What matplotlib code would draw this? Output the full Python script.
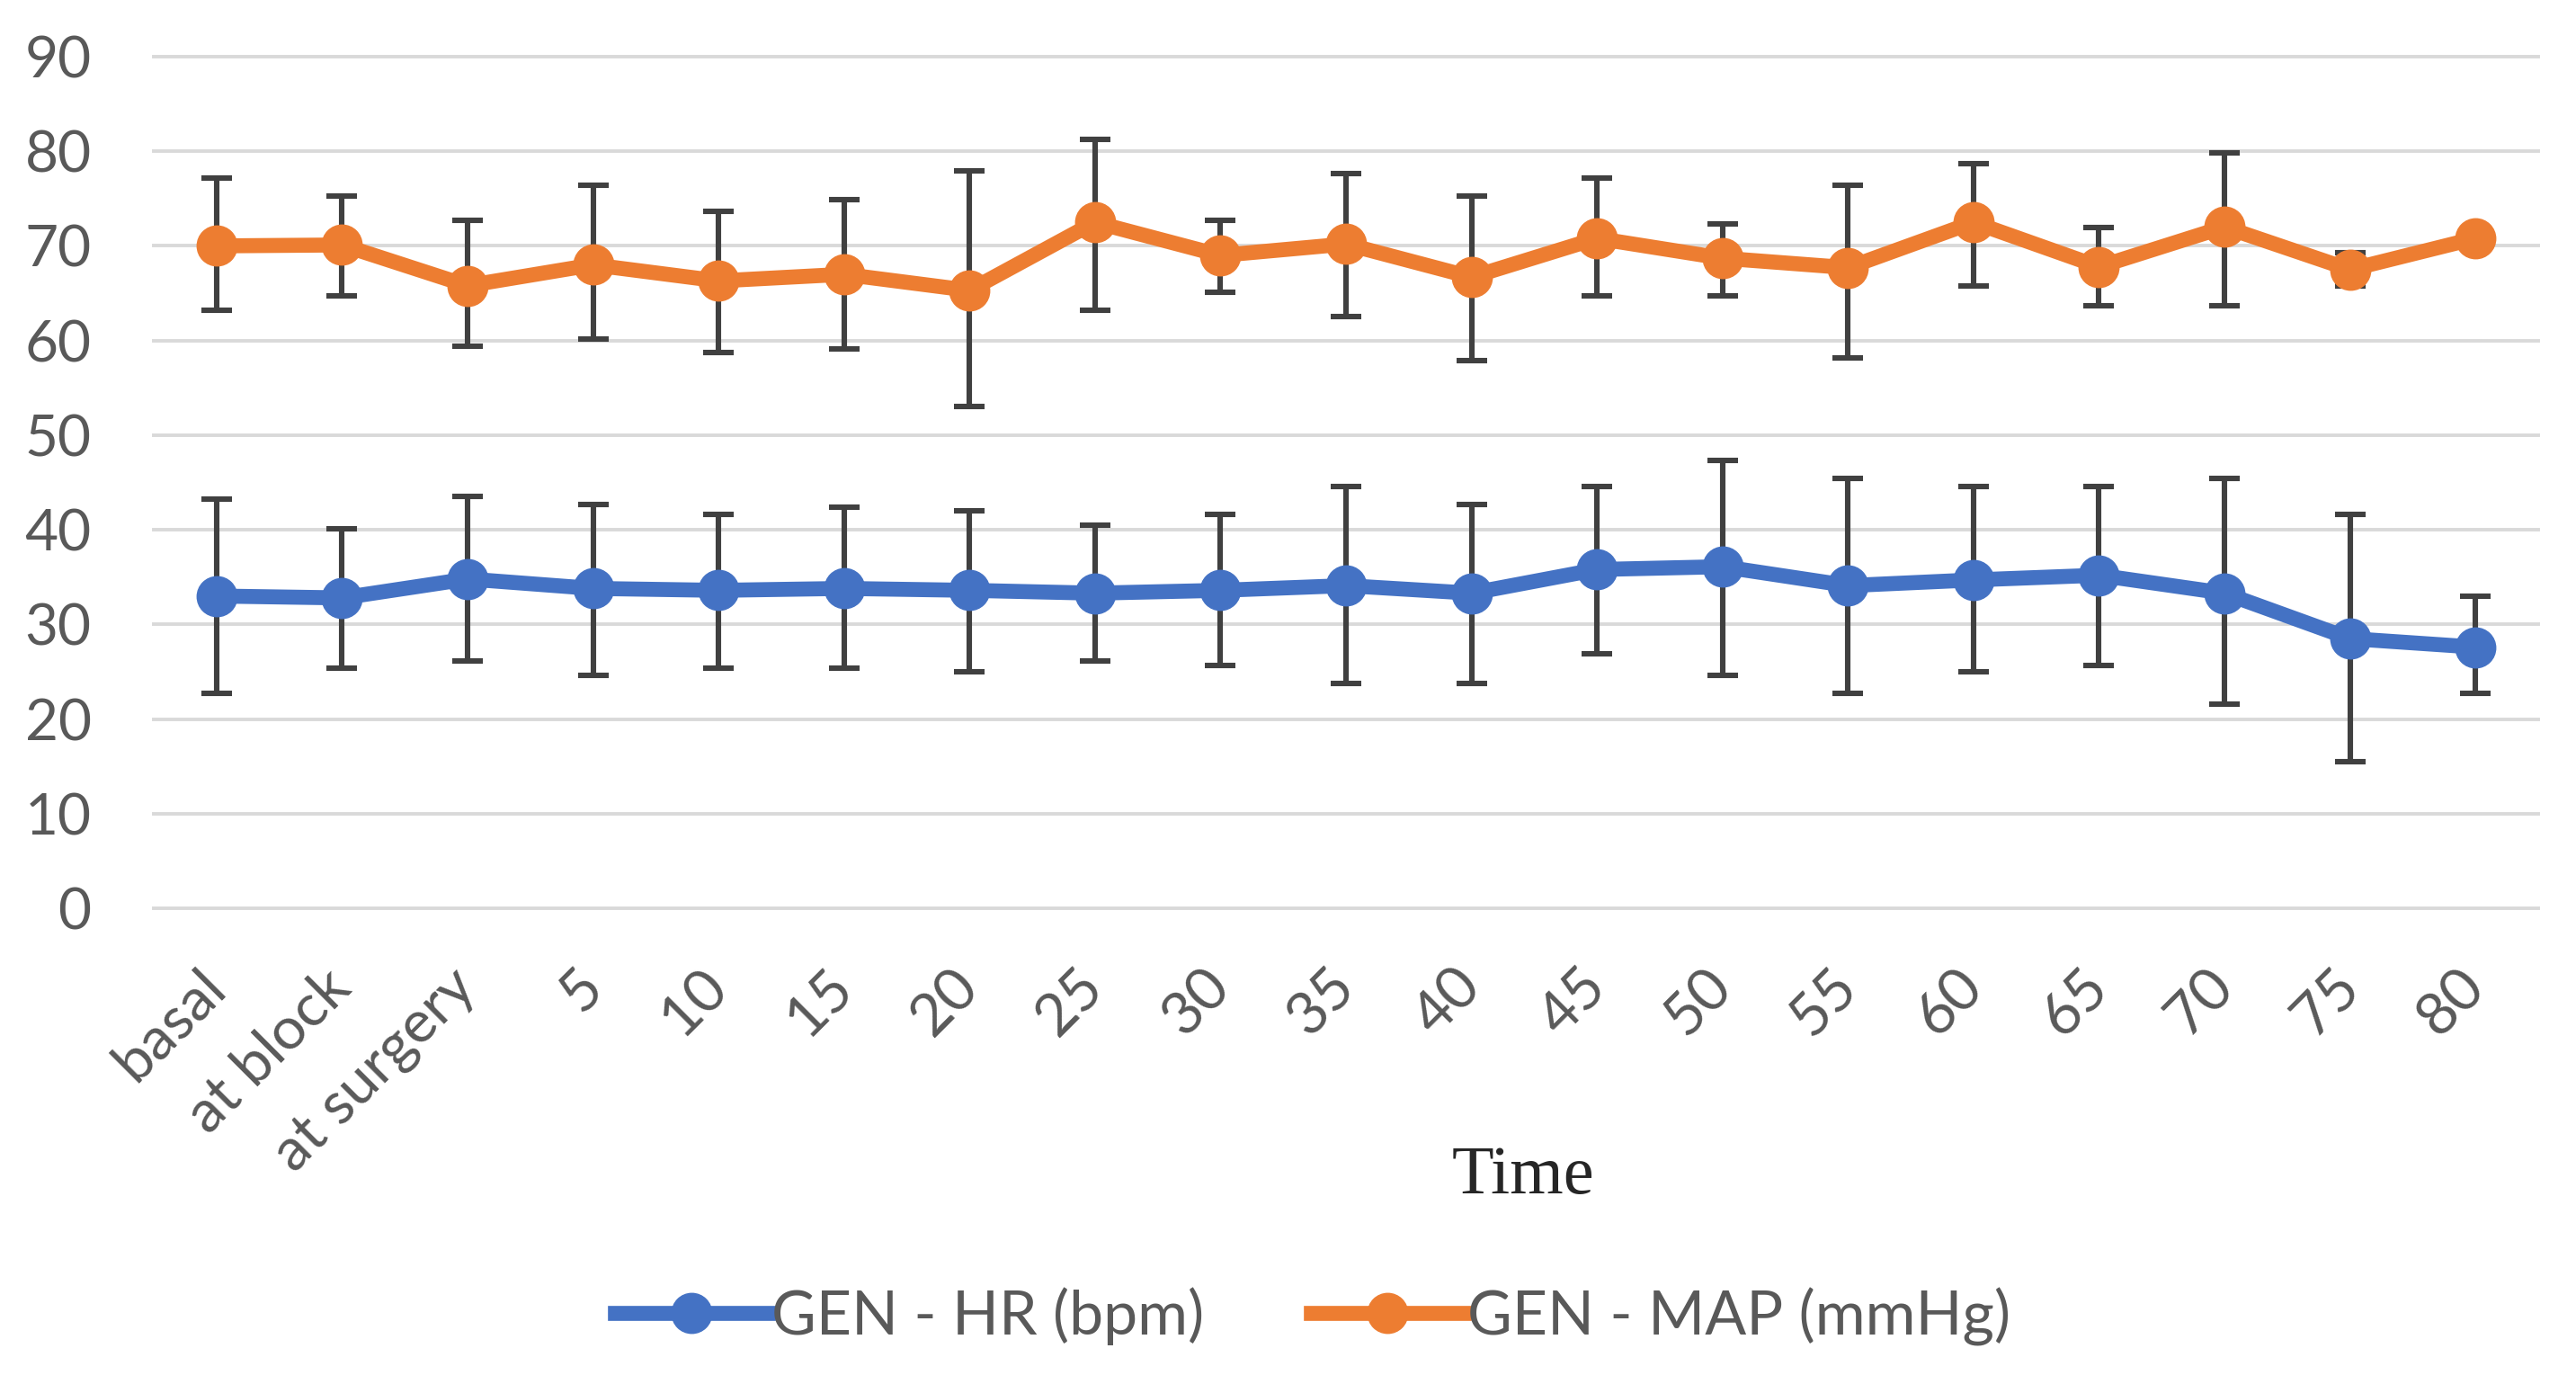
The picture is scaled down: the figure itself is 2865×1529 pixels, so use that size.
import matplotlib
matplotlib.use("Agg")
import matplotlib.pyplot as plt
import numpy as np

categories = ["basal", "at block", "at surgery", "5", "10", "15", "20", "25", "30", "35",
              "40", "45", "50", "55", "60", "65", "70", "75", "80"]

hr_mean = [33.0, 32.8, 34.8, 33.8, 33.6, 33.8, 33.6, 33.3, 33.6, 34.1,
           33.3, 35.8, 36.1, 34.1, 34.7, 35.2, 33.3, 28.5, 27.6]
hr_upper = [43.2, 40.1, 43.5, 42.7, 41.6, 42.4, 42.0, 40.5, 41.6, 44.6,
            42.7, 44.6, 47.3, 45.4, 44.6, 44.6, 45.4, 41.6, 33.0]
hr_lower = [22.7, 25.4, 26.1, 24.6, 25.4, 25.4, 25.0, 26.1, 25.7, 23.8,
            23.8, 26.9, 24.6, 22.7, 25.0, 25.7, 21.6, 15.5, 22.7]

map_mean = [70.0, 70.1, 65.8, 68.0, 66.3, 67.0, 65.3, 72.5, 69.0, 70.2,
            66.7, 70.8, 68.7, 67.7, 72.5, 67.8, 72.0, 67.5, 70.8]
map_upper = [77.2, 75.3, 72.7, 76.4, 73.7, 74.9, 77.9, 81.3, 72.7, 77.6,
             75.3, 77.2, 72.3, 76.4, 78.7, 71.9, 79.8, 69.3, 70.8]
map_lower = [63.2, 64.7, 59.4, 60.2, 58.7, 59.1, 53.0, 63.2, 65.1, 62.5,
             57.9, 64.7, 64.7, 58.2, 65.8, 63.7, 63.7, 65.8, 70.8]

yticks = [0, 10, 20, 30, 40, 50, 60, 70, 80, 90]

BLUE = "#4472C4"
ORANGE = "#ED7D31"
ERR = "#404040"
TXT = "#595959"
GRID = "#D9D9D9"
FONT = "Lato"

plt.rcParams["font.family"] = [FONT, "DejaVu Sans"]

W, H = 2865, 1529
fig = plt.figure(figsize=(W / 100, H / 100), dpi=100)
ax = fig.add_axes([171 / W, 1 - 1010 / H, (2823 - 171) / W, (1010 - 63) / H])

x = np.arange(len(categories))
ax.set_xlim(-0.5, len(categories) - 0.5)
ax.set_ylim(yticks[0], yticks[-1])

for yv in yticks:
    ax.axhline(yv, color=GRID, lw=2.8, zorder=0, clip_on=False)

for mean, up, lo, col, lab in [(hr_mean, hr_upper, hr_lower, BLUE, "GEN - HR (bpm)"),
                               (map_mean, map_upper, map_lower, ORANGE, "GEN - MAP (mmHg)")]:
    m = np.array(mean)
    yerr = np.vstack([m - np.array(lo), np.array(up) - m])
    ax.errorbar(x, m, yerr=yerr, fmt="none", ecolor=ERR, elinewidth=4.4,
                capsize=12.5, capthick=4.4, zorder=2)
    ax.plot(x, m, color=col, lw=12, marker="o", markersize=32, zorder=3,
            label=lab, solid_joinstyle="round")

for s in ax.spines.values():
    s.set_visible(False)

ax.set_yticks(yticks)
ax.set_yticklabels([str(v) for v in yticks], fontsize=46, color=TXT)
ax.tick_params(axis="y", length=0, pad=50)
ax.set_xticks(x)
ax.set_xticklabels(categories, fontsize=47.5, color=TXT, rotation=45,
                   ha="right", va="center", rotation_mode="anchor")
ax.tick_params(axis="x", length=0, pad=56)

fig.text(1694 / W, 1 - 1308 / H, "Time", fontsize=55, family="Liberation Serif",
         color="#262626", ha="center", va="center")

fig.legend(loc="center", bbox_to_anchor=(1460 / W, 1 - 1464 / H), ncol=2,
           frameon=False, fontsize=49, handlelength=2.5, handletextpad=0.05,
           columnspacing=1.75, labelcolor=TXT)

fig.savefig("out.png", dpi=100, facecolor="white")
